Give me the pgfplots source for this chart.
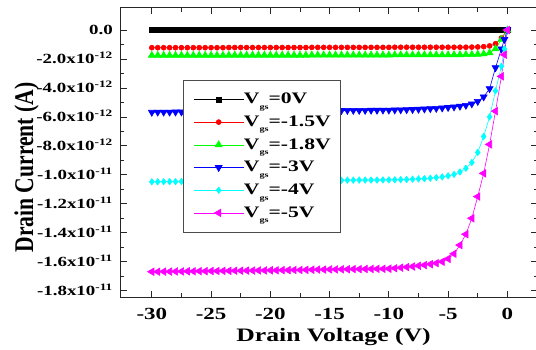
\documentclass[border=0pt]{standalone}
\usepackage{pgfplots}
\pgfplotsset{compat=1.18}
\usepackage{fontspec}
\setmainfont{Liberation Serif}[FakeStretch=1.35]
\newfontfamily\ylabfont{Liberation Serif}[FakeStretch=0.8]
\definecolor{cRed}{RGB}{255,0,0}
\definecolor{cGreen}{RGB}{0,255,0}
\definecolor{cBlue}{RGB}{0,0,255}
\definecolor{cCyan}{RGB}{0,255,255}
\definecolor{cMag}{RGB}{255,0,255}
\newcommand\vgs[1]{V\raisebox{-5.5bp}{\fontsize{7.5bp}{7.5bp}\selectfont gs}=#1}
\begin{document}
\begin{tikzpicture}
\useasboundingbox (-121bp,-53bp) rectangle (415bp,297bp);
\begin{axis}[
  scale only axis, width=416bp, height=289bp,
  xmin=-32.6, xmax=2.5, ymin=-18.435, ymax=1.52,
  axis line style={line width=1bp, black!85},
  tick pos=both, tick align=inside,
  major tick length=6bp, minor tick length=3.5bp,
  tick style={line width=0.8bp, black!85},
  xtick={-30,-25,-20,-15,-10,-5,0},
  xticklabels={-30,-25,-20,-15,-10,-5,0},
  minor x tick num=1,
  ytick={0,-2,-4,-6,-8,-10,-12,-14,-16,-18},
  yticklabels={0.0,
    -2.0x10\textsuperscript{-12},-4.0x10\textsuperscript{-12},-6.0x10\textsuperscript{-12},-8.0x10\textsuperscript{-12},
    -1.0x10\textsuperscript{-11},-1.2x10\textsuperscript{-11},-1.4x10\textsuperscript{-11},-1.6x10\textsuperscript{-11},-1.8x10\textsuperscript{-11}},
  minor y tick num=1,
  xticklabel style={font=\bfseries\fontsize{17bp}{17bp}\selectfont, inner sep=0pt, anchor=north, yshift=-11.3bp},
  yticklabel style={font=\bfseries\fontsize{14bp}{14bp}\selectfont, inner sep=0pt, anchor=base east, xshift=-8bp, yshift=-4.7bp},
  xlabel={Drain Voltage (V)},
  ylabel={Drain Current (A)},
  xlabel style={font=\bfseries\fontsize{19bp}{19bp}\selectfont, at={(axis description cs:0.511,-0.1547)}, anchor=base},
  ylabel style={font=\ylabfont\bfseries\fontsize{27bp}{27bp}\selectfont, at={(axis description cs:-0.2115,0.448)}, anchor=base, rotate=0},
  legend style={font=\bfseries\fontsize{16bp}{16bp}\selectfont, at={(0.149,0.751)}, anchor=north west,
    draw=black!70, line width=0.8bp, fill=white,
    nodes={inner sep=0pt, text height=15.7bp, text depth=7bp},
    row sep=0pt, inner xsep=10bp, inner ysep=7.7bp},
  legend cell align=left,
  legend image code/.code={\draw[mark repeat=2,mark phase=2,line width=0.6bp,#1] plot coordinates {(0bp,0bp) (25bp,0bp) (50bp,0bp)};},
  every axis plot/.append style={line width=0.6bp},
]
\addplot[black, mark=square*, mark size=2.5bp, mark options={solid}] coordinates {
(-30,0) (-29.5,0) (-29,0) (-28.5,0) (-28,0) (-27.5,0) (-27,0) (-26.5,0) (-26,0) (-25.5,0)
(-25,0) (-24.5,0) (-24,0) (-23.5,0) (-23,0) (-22.5,0) (-22,0) (-21.5,0) (-21,0) (-20.5,0)
(-20,0) (-19.5,0) (-19,0) (-18.5,0) (-18,0) (-17.5,0) (-17,0) (-16.5,0) (-16,0) (-15.5,0)
(-15,0) (-14.5,0) (-14,0) (-13.5,0) (-13,0) (-12.5,0) (-12,0) (-11.5,0) (-11,0) (-10.5,0)
(-10,0) (-9.5,0) (-9,0) (-8.5,0) (-8,0) (-7.5,0) (-7,0) (-6.5,0) (-6,0) (-5.5,0)
(-5,0) (-4.5,0) (-4,0) (-3.5,0) (-3,0) (-2.5,0) (-2,0) (-1.5,0) (-1,0) (-0.5,0) (0,0)};
\addlegendentry{\vgs{0V}}
\addplot[cRed, mark=*, mark size=2.5bp] coordinates {
(-30,-1.22) (-29.5,-1.22) (-29,-1.22) (-28.5,-1.22) (-28,-1.22) (-27.5,-1.22) (-27,-1.22) (-26.5,-1.22) (-26,-1.22) (-25.5,-1.22)
(-25,-1.22) (-24.5,-1.22) (-24,-1.22) (-23.5,-1.21) (-23,-1.21) (-22.5,-1.21) (-22,-1.21) (-21.5,-1.21) (-21,-1.21) (-20.5,-1.21)
(-20,-1.21) (-19.5,-1.21) (-19,-1.21) (-18.5,-1.21) (-18,-1.21) (-17.5,-1.21) (-17,-1.21) (-16.5,-1.20) (-16,-1.20) (-15.5,-1.20)
(-15,-1.20) (-14.5,-1.20) (-14,-1.20) (-13.5,-1.20) (-13,-1.20) (-12.5,-1.20) (-12,-1.20) (-11.5,-1.20) (-11,-1.20) (-10.5,-1.20)
(-10,-1.20) (-9.5,-1.19) (-9,-1.19) (-8.5,-1.19) (-8,-1.19) (-7.5,-1.19) (-7,-1.19) (-6.5,-1.19) (-6,-1.19) (-5.5,-1.19)
(-5,-1.19) (-4.5,-1.19) (-4,-1.19) (-3.5,-1.19) (-3,-1.18) (-2.5,-1.17) (-2,-1.15) (-1.5,-1.10) (-1,-0.95) (-0.5,-0.55) (0,0)};
\addlegendentry{\vgs{-1.5V}}
\addplot[cGreen, mark=triangle*, mark size=4bp] coordinates {
(-30,-1.75) (-29.5,-1.75) (-29,-1.75) (-28.5,-1.75) (-28,-1.75) (-27.5,-1.75) (-27,-1.75) (-26.5,-1.75) (-26,-1.75) (-25.5,-1.75)
(-25,-1.75) (-24.5,-1.75) (-24,-1.75) (-23.5,-1.74) (-23,-1.74) (-22.5,-1.74) (-22,-1.74) (-21.5,-1.74) (-21,-1.74) (-20.5,-1.74)
(-20,-1.74) (-19.5,-1.74) (-19,-1.74) (-18.5,-1.74) (-18,-1.74) (-17.5,-1.74) (-17,-1.74) (-16.5,-1.73) (-16,-1.73) (-15.5,-1.73)
(-15,-1.73) (-14.5,-1.73) (-14,-1.73) (-13.5,-1.73) (-13,-1.73) (-12.5,-1.73) (-12,-1.73) (-11.5,-1.73) (-11,-1.73) (-10.5,-1.73)
(-10,-1.73) (-9.5,-1.72) (-9,-1.72) (-8.5,-1.72) (-8,-1.72) (-7.5,-1.72) (-7,-1.72) (-6.5,-1.72) (-6,-1.72) (-5.5,-1.72)
(-5,-1.72) (-4.5,-1.71) (-4,-1.71) (-3.5,-1.70) (-3,-1.70) (-2.5,-1.68) (-2,-1.65) (-1.5,-1.58) (-1,-1.30) (-0.5,-0.65) (0,0)};
\addlegendentry{\vgs{-1.8V}}
\addplot[cBlue, mark=triangle*, mark size=4bp, mark options={rotate=180}] coordinates {
(-30,-5.68) (-29.5,-5.67) (-29,-5.67) (-28.5,-5.67) (-28,-5.66) (-27.5,-5.66) (-27,-5.66) (-26.5,-5.65) (-26,-5.65) (-25.5,-5.65)
(-25,-5.64) (-24.5,-5.64) (-24,-5.64) (-23.5,-5.63) (-23,-5.63) (-22.5,-5.62) (-22,-5.62) (-21.5,-5.61) (-21,-5.61) (-20.5,-5.61)
(-20,-5.61) (-19.5,-5.60) (-19,-5.60) (-18.5,-5.59) (-18,-5.59) (-17.5,-5.58) (-17,-5.58) (-16.5,-5.58) (-16,-5.58) (-15.5,-5.57)
(-15,-5.57) (-14.5,-5.56) (-14,-5.56) (-13.5,-5.55) (-13,-5.55) (-12.5,-5.55) (-12,-5.55) (-11.5,-5.54) (-11,-5.54) (-10.5,-5.53)
(-10,-5.53) (-9.5,-5.52) (-9,-5.51) (-8.5,-5.50) (-8,-5.49) (-7.5,-5.47) (-7,-5.45) (-6.5,-5.43) (-6,-5.41) (-5.5,-5.38)
(-5,-5.35) (-4.5,-5.31) (-4,-5.26) (-3.5,-5.20) (-3,-5.10) (-2.5,-4.93) (-2,-4.62) (-1.5,-4.05) (-1,-2.60) (-0.5,-1.30) (-0.25,-0.65) (0,0)};
\addlegendentry{\vgs{-3V}}
\addplot[cCyan, mark=diamond*, mark size=3.2bp] coordinates {
(-30,-10.48) (-29.5,-10.48) (-29,-10.47) (-28.5,-10.47) (-28,-10.47) (-27.5,-10.46) (-27,-10.46) (-26.5,-10.46) (-26,-10.46) (-25.5,-10.45)
(-25,-10.45) (-24.5,-10.44) (-24,-10.44) (-23.5,-10.44) (-23,-10.44) (-22.5,-10.43) (-22,-10.43) (-21.5,-10.42) (-21,-10.42) (-20.5,-10.42)
(-20,-10.42) (-19.5,-10.41) (-19,-10.41) (-18.5,-10.40) (-18,-10.40) (-17.5,-10.39) (-17,-10.39) (-16.5,-10.39) (-16,-10.39) (-15.5,-10.38)
(-15,-10.38) (-14.5,-10.38) (-14,-10.38) (-13.5,-10.37) (-13,-10.37) (-12.5,-10.36) (-12,-10.36) (-11.5,-10.36) (-11,-10.36) (-10.5,-10.35)
(-10,-10.35) (-9.5,-10.34) (-9,-10.33) (-8.5,-10.32) (-8,-10.30) (-7.5,-10.28) (-7,-10.26) (-6.5,-10.23) (-6,-10.19) (-5.5,-10.14)
(-5,-10.07) (-4.5,-9.97) (-4,-9.80) (-3.5,-9.55) (-3,-9.15) (-2.5,-8.45) (-2,-7.35) (-1.5,-6.00) (-1,-4.20) (-0.5,-2.50) (-0.25,-1.30) (0,0)};
\addlegendentry{\vgs{-4V}}
\addplot[cMag, mark=triangle*, mark size=4.3bp, mark options={rotate=90}] coordinates {
(-30,-16.69) (-29.5,-16.69) (-29,-16.68) (-28.5,-16.68) (-28,-16.67) (-27.5,-16.67) (-27,-16.66) (-26.5,-16.66) (-26,-16.65) (-25.5,-16.65)
(-25,-16.64) (-24.5,-16.64) (-24,-16.63) (-23.5,-16.63) (-23,-16.62) (-22.5,-16.62) (-22,-16.61) (-21.5,-16.61) (-21,-16.60) (-20.5,-16.60)
(-20,-16.59) (-19.5,-16.59) (-19,-16.58) (-18.5,-16.58) (-18,-16.57) (-17.5,-16.57) (-17,-16.56) (-16.5,-16.55) (-16,-16.54) (-15.5,-16.54)
(-15,-16.53) (-14.5,-16.53) (-14,-16.52) (-13.5,-16.52) (-13,-16.51) (-12.5,-16.51) (-12,-16.50) (-11.5,-16.50) (-11,-16.49) (-10.5,-16.49)
(-10,-16.48) (-9.5,-16.45) (-9,-16.41) (-8.5,-16.37) (-8,-16.33) (-7.5,-16.28) (-7,-16.23) (-6.5,-16.17) (-6,-16.10) (-5.5,-16.00)
(-5,-15.80) (-4.5,-15.45) (-4,-14.85) (-3.5,-14.10) (-3,-13.00) (-2.5,-11.50) (-2,-9.90) (-1.5,-7.90) (-1,-5.60) (-0.5,-3.20) (-0.25,-1.70) (0,0)};
\addlegendentry{\vgs{-5V}}
\end{axis}
\end{tikzpicture}
\end{document}
